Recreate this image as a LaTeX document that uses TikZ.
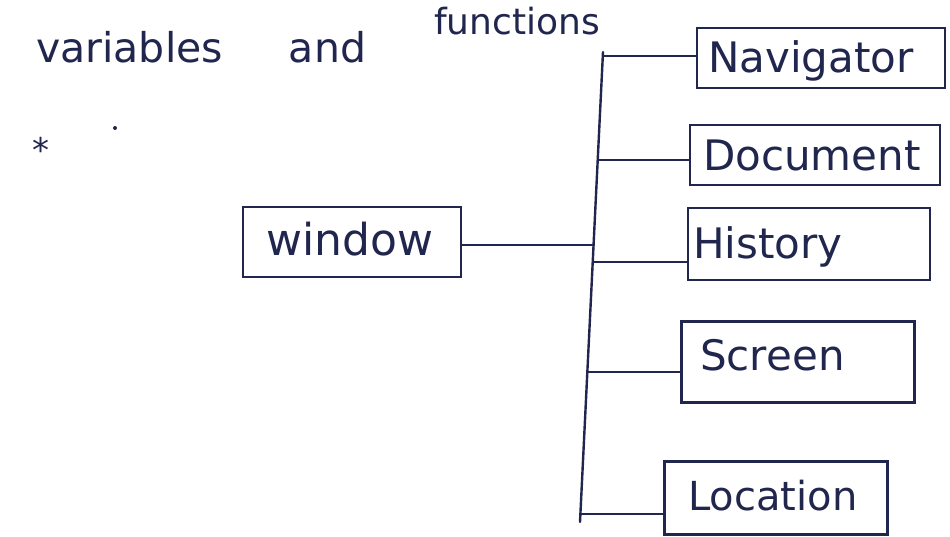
\documentclass[tikz,border=0pt]{standalone}
\usepackage{fontspec}
\setmainfont{DejaVu Sans}
\definecolor{ink}{RGB}{32,38,78}
\begin{document}
\begin{tikzpicture}[x=1pt,y=-1pt,
  box/.style={draw=ink, line width=2.4pt, inner sep=0pt},
  lbl/.style={text=ink, inner sep=0pt, anchor=base west, font=\fontsize{42}{50}\selectfont},
  link/.style={draw=ink, line width=2.4pt, line cap=round}]
\useasboundingbox (0,0) rectangle (950,536);
\fill[white] (0,0) rectangle (950,536);
% title
\node[lbl, font=\fontsize{41}{48}\selectfont] (title) at (36,62) {variables\hspace{66pt}and};
\node[lbl, font=\fontsize{36}{44}\selectfont] (title2) at (434,34) {functions};
% stray marks
\node[text=ink, inner sep=0pt, font=\fontsize{34}{40}\selectfont] (star) at (41,150) {*};
\fill[ink] (115,128) circle (2);
% window
\node[box, minimum width=218, minimum height=70] (win) at (352,242) {};
\node[lbl, font=\fontsize{44}{52}\selectfont] (wint) at (266,255) {window};
% boxes
\node[box, minimum width=248, minimum height=60] (nav) at (821,58) {};
\node[lbl] (navt) at (708,72) {Navigator};
\node[box, minimum width=250, minimum height=60] (doc) at (815,155) {};
\node[lbl] (doct) at (703,170) {Document};
\node[box, minimum width=242, minimum height=72] (hist) at (809,244) {};
\node[lbl] (histt) at (693,258) {History};
\node[box, minimum width=233, minimum height=81] (scr) at (798,362) {};
\node[lbl] (scrt) at (700,370) {Screen};
\node[box, minimum width=223, minimum height=73] (loc) at (776,498) {};
\node[lbl, font=\fontsize{40}{48}\selectfont] (loct) at (688,510) {Location};
% trunk
\coordinate (top) at (603,52);
\coordinate (bot) at (580,522);
\coordinate (b1) at (603,56);
\coordinate (b2) at (598,160);
\coordinate (bw) at (594,245);
\coordinate (b3) at (593,262);
\coordinate (b4) at (587,372);
\coordinate (b5) at (580,514);
\draw[link] (top) -- (bot);
\draw[link] (win.east |- bw) -- (bw);
\draw[link] (b1) -- (b1 -| nav.west);
\draw[link] (b2) -- (b2 -| doc.west);
\draw[link] (b3) -- (b3 -| hist.west);
\draw[link] (b4) -- (b4 -| scr.west);
\draw[link] (b5) -- (b5 -| loc.west);
\end{tikzpicture}
\end{document}
